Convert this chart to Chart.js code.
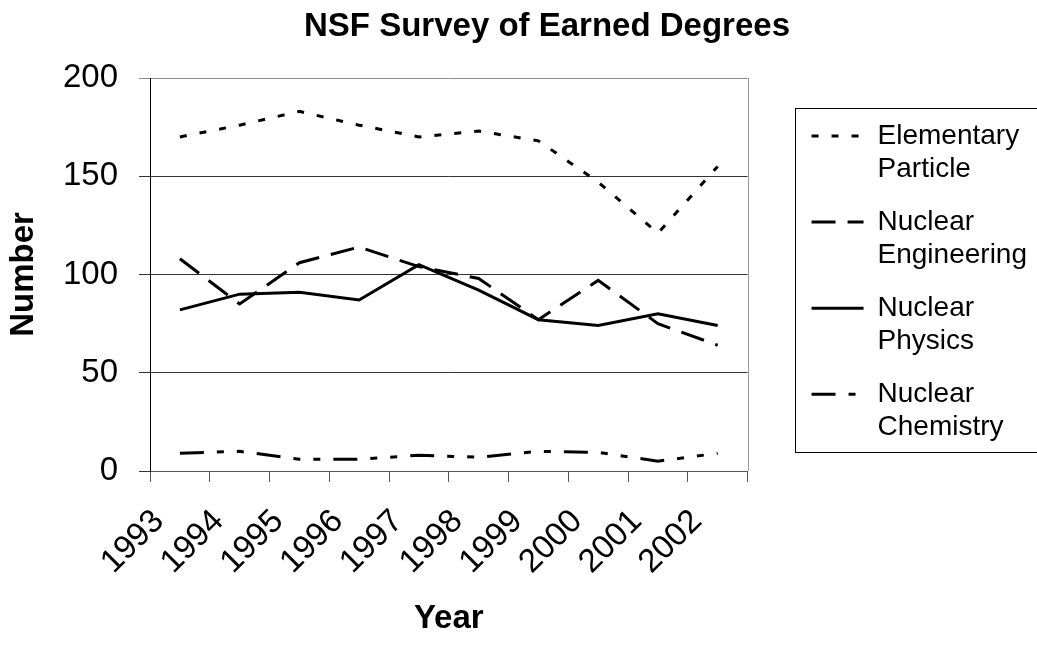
<!DOCTYPE html>
<html>
<head>
<meta charset="utf-8">
<title>NSF Survey of Earned Degrees</title>
<script src="https://cdn.jsdelivr.net/npm/chart.js@4.4.1/dist/chart.umd.min.js"></script>
<style>
  html, body { margin: 0; padding: 0; background: #fff; }
  #wrap { position: relative; width: 1037px; height: 646px; }
</style>
</head>
<body>
<div id="wrap"><canvas id="degreeChart"></canvas></div>
<script>
// Values
const chartTitle = 'NSF Survey of Earned Degrees';
const years = ['1993', '1994', '1995', '1996', '1997', '1998', '1999', '2000', '2001', '2002'];
const elementaryParticle = [170, 176, 183, 176, 170, 173, 168, 147, 121, 155];
const nuclearEngineering = [108, 85, 106, 114, 104, 98, 77, 97, 75, 64];
const nuclearPhysics = [82, 90, 91, 87, 105, 92, 77, 74, 80, 74];
const nuclearChemistry = [9, 10, 6, 6, 8, 7, 10, 9.5, 5, 9];
const yTicks = [0, 50, 100, 150, 200];

const FONT = '"Liberation Sans", Arial, sans-serif';
Chart.defaults.font.family = FONT;
Chart.defaults.color = '#000';

function lineSet(label, data, dash) {
    return {
        label: label,
        data: data,
        borderColor: '#000',
        backgroundColor: '#000',
        borderWidth: 3,
        borderDash: dash,
        borderCapStyle: 'butt',
        pointRadius: 0,
        tension: 0,
        fill: false
    };
}

// title is drawn by hand so it can sit where the original had it
const heading = {
    id: 'heading',
    afterDraw(chart) {
        const ctx = chart.ctx;
        ctx.save();
        ctx.font = 'bold 33px ' + FONT;
        ctx.fillStyle = '#000';
        ctx.textAlign = 'center';
        ctx.textBaseline = 'alphabetic';
        ctx.fillText(chartTitle, 547, 36);
        ctx.restore();
    }
};

// box round the legend and grey right edge of the plot
const frame = {
    id: 'frame',
    afterDraw(chart) {
        const ctx = chart.ctx;
        const a = chart.chartArea;
        ctx.save();
        ctx.lineWidth = 1;
        ctx.strokeStyle = '#999';
        ctx.beginPath();
        ctx.moveTo(Math.round(a.right) + 0.5, a.top);
        ctx.lineTo(Math.round(a.right) + 0.5, a.bottom);
        ctx.stroke();

        const lg = chart.legend;
        const boxes = lg.legendHitBoxes;
        if (boxes && boxes.length && lg.columnSizes && lg.columnSizes.length) {
            const first = boxes[0];
            const pad = lg.options.labels.padding;
            const left = Math.round(first.left - 17) + 0.5;
            const top = Math.round(first.top - 14) + 0.5;
            const bottom = Math.round(first.top + lg.columnSizes[0].height - pad + 6) + 0.5;
            ctx.strokeStyle = '#000';
            ctx.strokeRect(left, top, chart.width + 10 - left, bottom - top);
        }
        ctx.restore();
    }
};

const ctx = document.getElementById('degreeChart').getContext('2d');
const degreeChart = new Chart(ctx, {
    type: 'line',
    data: {
        labels: years,
        datasets: [
            lineSet('Elementary Particle', elementaryParticle, [7, 13]),
            lineSet('Nuclear Engineering', nuclearEngineering, [24, 12]),
            lineSet('Nuclear Physics', nuclearPhysics, []),
            lineSet('Nuclear Chemistry', nuclearChemistry, [24, 13, 7, 13, 7, 13])
        ]
    },
    options: {
        responsive: true,
        maintainAspectRatio: false,
        animation: false,
        layout: { padding: { top: 78, right: 0, bottom: 0, left: 0 } },
        plugins: {
            title: { display: false },
            tooltip: { enabled: false },
            legend: {
                position: 'right',
                align: 'start',
                fullSize: false,
                maxWidth: 300,
                title: { display: true, text: '', font: { size: 20, lineHeight: 1.2 }, padding: 0 },
                labels: {
                    usePointStyle: true,
                    pointStyle: 'line',
                    pointStyleWidth: 52,
                    padding: 20,
                    color: '#000',
                    font: { size: 28, lineHeight: 1.18 },
                    generateLabels(chart) {
                        const items = Chart.defaults.plugins.legend.labels.generateLabels(chart);
                        items.forEach(item => {
                            const ds = chart.data.datasets[item.datasetIndex];
                            item.text = item.text.split(' ');
                            item.lineDash = ds.borderDash;
                            item.lineWidth = ds.borderWidth;
                            item.strokeStyle = ds.borderColor;
                            item.lineCap = 'butt';
                        });
                        return items;
                    }
                }
            }
        },
        scales: {
            x: {
                offset: true,
                grid: {
                    display: true,
                    offset: true,
                    drawOnChartArea: false,
                    drawTicks: true,
                    tickLength: 11,
                    color: '#555'
                },
                border: { display: true, color: '#555' },
                ticks: {
                    autoSkip: false,
                    minRotation: 45,
                    maxRotation: 45,
                    padding: 20,
                    labelOffset: -21,
                    color: '#000',
                    font: { size: 33 }
                },
                title: {
                    display: true,
                    text: 'Year',
                    color: '#000',
                    font: { size: 33, weight: 'bold' },
                    padding: { top: 17, bottom: 7 }
                },
                afterFit(scale) {
                    scale.height = 175;
                    scale.paddingLeft = 0;
                    scale.paddingRight = 0;
                }
            },
            y: {
                min: yTicks[0],
                max: yTicks[yTicks.length - 1],
                grid: {
                    tickLength: 11,
                    color: c => (c.tick && c.tick.value === yTicks[yTicks.length - 1]) ? '#8c8c8c' : '#333'
                },
                border: { display: true, color: '#000' },
                ticks: {
                    stepSize: yTicks[1] - yTicks[0],
                    padding: 21,
                    color: '#000',
                    font: { size: 33 }
                },
                title: {
                    display: true,
                    text: 'Number',
                    color: '#000',
                    font: { size: 33, weight: 'bold' },
                    padding: { top: 4, bottom: 19 }
                },
                afterFit(scale) { scale.width = 150; }
            },
            gap: {
                type: 'linear',
                position: 'right',
                display: true,
                grid: { display: false },
                border: { display: false },
                ticks: { display: false },
                afterFit(scale) { scale.width = 44; }
            }
        }
    },
    plugins: [heading, frame]
});
</script>
</body>
</html>
